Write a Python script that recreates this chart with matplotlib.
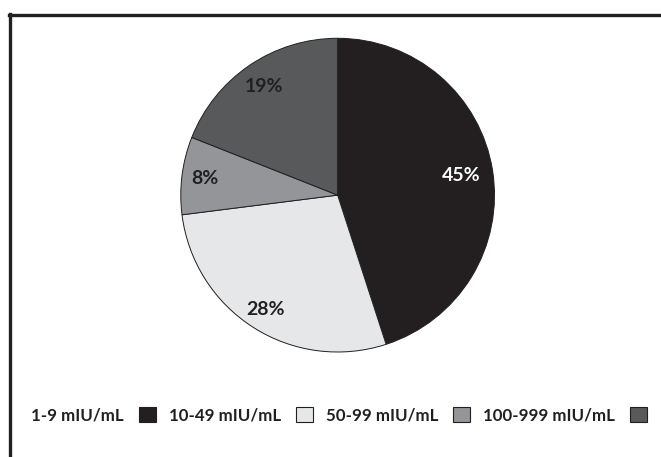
import matplotlib
matplotlib.use("Agg")
import matplotlib.pyplot as plt
from matplotlib.patches import Patch
from matplotlib.lines import Line2D
import numpy as np

plt.rcParams['font.family'] = ['Lato', 'DejaVu Sans']

categories = ["1-9 mIU/mL", "10-49 mIU/mL", "50-99 mIU/mL", "100-999 mIU/mL"]
shares = [45, 28, 8, 19]
colors = ["#231f20", "#e6e7e8", "#939598", "#58595b"]
label_colors = ["white", "#231f20", "#231f20", "#231f20"]
label_dist = [0.80, 0.86, 0.85, 0.84]

ink = "#231f20"

fig = plt.figure(figsize=(6.61, 4.57), dpi=100)
fig.patch.set_facecolor("white")

ax = fig.add_axes([0.2723, 0.228, 0.477, 0.69])
wedges, _ = ax.pie(shares, colors=colors, startangle=90, counterclock=False,
                   radius=1.0,
                   wedgeprops=dict(edgecolor=ink, linewidth=0.7))
ax.set_xlim(-1.005, 1.005)
ax.set_ylim(-1.005, 1.005)
ax.set_aspect("equal")
ax.axis("off")

for w, val, c, d in zip(wedges, shares, label_colors, label_dist):
    ang = np.deg2rad((w.theta1 + w.theta2) / 2)
    ax.text(d * np.cos(ang), d * np.sin(ang), f"{val}%", ha="center", va="center",
            fontsize=14, fontweight="bold", color=c)

handles = [Patch(facecolor=c, edgecolor=ink, linewidth=0.8) for c in colors]
fig.legend(handles, categories, loc="center", bbox_to_anchor=(0.513, 0.092),
           ncol=4, markerfirst=False, frameon=False,
           prop=dict(size=12.2, weight="bold"),
           handlelength=1.0, handleheight=1.0,
           handletextpad=0.9, columnspacing=0.75,
           labelcolor=ink)

# outer frame: top and left rules
fig.add_artist(Line2D([8.5 / 661, 1.0], [1 - 14.5 / 457, 1 - 14.5 / 457],
                      transform=fig.transFigure, color=ink, linewidth=2.4))
fig.add_artist(Line2D([9.5 / 661, 9.5 / 661], [0.0, 1 - 13.5 / 457],
                      transform=fig.transFigure, color=ink, linewidth=2.4))

fig.savefig("out.png", dpi=100)
